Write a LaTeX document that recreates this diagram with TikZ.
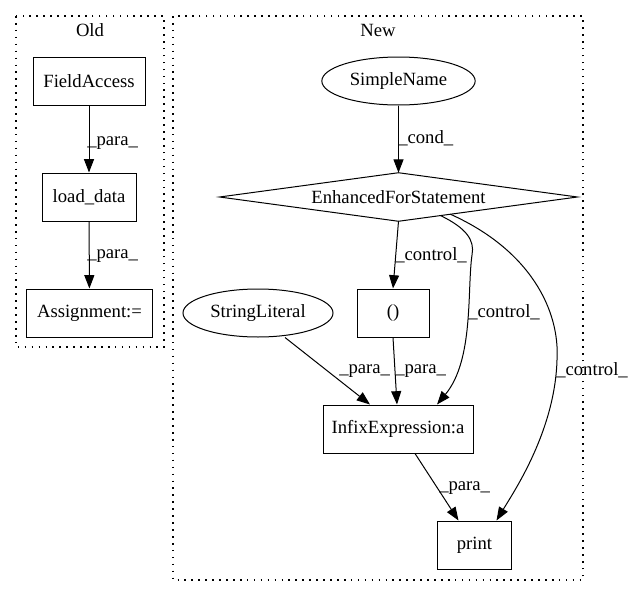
\documentclass[tikz,border=0pt]{standalone}
\usepackage{fontspec}
\setmainfont{Liberation Serif}
\usetikzlibrary{arrows.meta,shapes.geometric,calc}
\begin{document}
\begin{tikzpicture}[x=0.75pt,y=-0.75pt,
  every node/.style={font=\fontsize{14}{17}\selectfont, inner sep=0pt},
  box/.style={draw, line width=0.75pt, minimum height=36pt},
  oval/.style={draw, ellipse, line width=0.75pt, minimum height=36pt},
  cluster/.style={line width=0.9pt, dash pattern=on 1.2pt off 4pt},
  edge/.style={line width=0.75pt, -{Triangle[length=10pt,width=7.5pt]}},
  lbl/.style={anchor=west}]
\useasboundingbox (0,0) rectangle (632,596);
% clusters
\draw[cluster] (16,16) rectangle (164,347);
\node (oldlbl) at (90,30) {Old};
\draw[cluster] (173,16) rectangle (583,580);
\node (newlbl) at (378,30) {New};
% Old nodes
\node[box, minimum width=84pt] (fa) at (89,81) {FieldAccess};
\node[box, minimum width=70.5pt] (ld) at (89,197) {load\_data};
\node[box, minimum width=94pt] (as) at (89.5,313) {Assignment:=};
\draw[edge] (fa) -- (ld);
\node[lbl] (l1) at (87,143) {\_para\_};
\draw[edge] (ld) -- (as);
\node[lbl] (l2) at (87,256) {\_para\_};
% New nodes
\node[oval, minimum width=115pt] (sn) at (398.5,81) {SimpleName};
\node[minimum width=268pt, minimum height=36pt] (efs) at (398.5,197) {EnhancedForStatement};
\draw[line width=0.75pt] (efs.west) -- (efs.north) -- (efs.east) -- (efs.south) -- cycle;
\node[box, minimum width=54pt] (par) at (393,313) {()};
\node[oval, minimum width=112.5pt] (sl) at (258,313) {StringLiteral};
\node[box, minimum width=112.5pt] (inf) at (398,429) {InfixExpression:a};
\node[box, minimum width=55pt] (pr) at (474.5,545) {print};
% edges
\draw[edge] (sn) -- (efs.north);
\node[lbl] (l3) at (398,138) {\_cond\_};
\draw[edge] (efs.south) -- (par.north);
\node[lbl] (l4) at (395,255) {\_control\_};
\draw[edge] ($(efs.south)!0.235!(efs.east)$) .. controls (466,228) and (475,240) .. (472,255)
  .. controls (467,290) and (474,360) .. ($(inf.north)+(39,0)$);
\node[lbl] (l5) at (468,312) {\_control\_};
\draw[edge] ($(efs.south)!0.29!(efs.east)$) .. controls (530,250) and (560,310) .. (557,360)
  .. controls (555,430) and (515,490) .. ($(pr.north)+(22,0)$);
\node[lbl] (l6) at (556,370) {\_control\_};
\draw[edge] ($(sl.south)+(27,0)$) -- ($(inf.north)+(-28,0)$);
\node[lbl] (l7) at (339,371) {\_para\_};
\draw[edge] (par.south) -- ($(inf.north)+(-1,0)$);
\node[lbl] (l8) at (395,371) {\_para\_};
\draw[edge] ($(inf.south)+(17,0)$) -- ($(pr.north)+(-16,0)$);
\node[lbl] (l9) at (439,488) {\_para\_};
\end{tikzpicture}
\end{document}
